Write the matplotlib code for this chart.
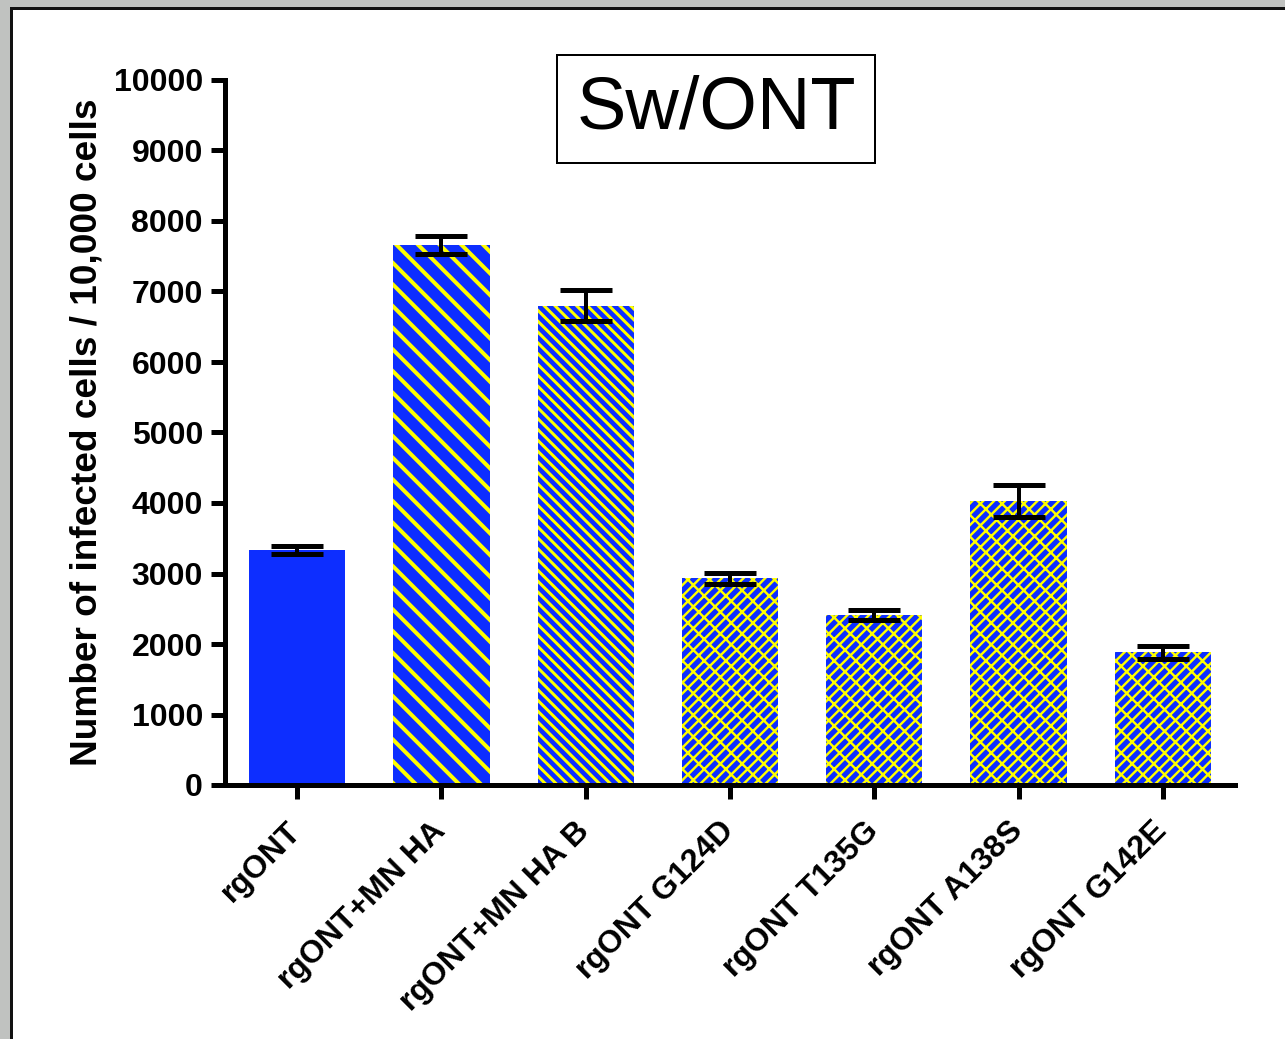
import matplotlib.pyplot as plt
from matplotlib.patches import Rectangle
from matplotlib.transforms import ScaledTranslation

# data
labels = ["rgONT", "rgONT+MN HA", "rgONT+MN HA B", "rgONT G124D",
          "rgONT T135G", "rgONT A138S", "rgONT G142E"]
values = [3330, 7660, 6800, 2930, 2410, 4030, 1880]
errors = [60, 125, 220, 75, 70, 225, 90]
hatches = ["", "\\\\", "\\\\\\\\", "////\\\\", "////\\\\", "////\\\\", "////\\\\"]

DPI = 130
px = 72 / DPI  # pixels -> points
hatch_lw = [0, 4.0, 3.0, 2.4, 2.4, 2.4, 2.4]  # in pixels

plt.rcParams["font.family"] = ["Liberation Sans", "DejaVu Sans"]
plt.rcParams["hatch.linewidth"] = 3.0 * px
plt.rcParams["hatch.color"] = "#ffff00"

fig = plt.figure(figsize=(1285 / DPI, 1039 / DPI), dpi=DPI)
fig.patch.set_facecolor("#c0c2c0")

# white panel with black top/left border
W, H = 1285, 1039
fig.patches.append(Rectangle((11 / W, 0), 1, 1 - 8 / H, transform=fig.transFigure,
                             facecolor="white", edgecolor="none", zorder=-1))
fig.add_artist(plt.Line2D([11 / W, 11 / W], [0, 1 - 8 / H], color="#111111",
                          lw=3 * px, transform=fig.transFigure, zorder=-0.5))
fig.add_artist(plt.Line2D([11 / W, 1], [1 - 8 / H, 1 - 8 / H], color="#111111",
                          lw=3 * px, transform=fig.transFigure, zorder=-0.5))

ax = fig.add_axes([225 / W, 1 - 785 / H, (1235 - 225) / W, (785 - 80) / H])
ax.set_facecolor("none")
ax.set_zorder(1)

x = range(len(labels))
for i in x:
    with plt.rc_context({"hatch.linewidth": max(hatch_lw[i], 1) * px}):
        bars = ax.bar(i, values[i], width=0.667, color="#0d2eff",
                      edgecolor="#ffff00" if hatches[i] else "#0d2eff",
                      linewidth=0, hatch=hatches[i], zorder=2)
    for b in bars:
        if hasattr(b, "set_hatch_linewidth"):
            b.set_hatch_linewidth(max(hatch_lw[i], 1) * px)

eb = ax.errorbar(list(x), values, yerr=errors, fmt="none", ecolor="black",
                 elinewidth=4 * px, capsize=26 * px, capthick=5 * px, zorder=3)
for cap in eb[1]:
    cap.set_solid_capstyle("round")

ax.set_xlim(-0.5, 6.5)
ax.set_ylim(0, 10000)
ax.set_yticks(range(0, 10001, 1000))
ax.set_xticks(list(x))
ax.set_xticklabels([])
# rotated category labels placed by hand relative to each tick
shift = ScaledTranslation(-11 / DPI, -31 / DPI, fig.dpi_scale_trans)
for i, lab in zip(x, labels):
    ax.text(i, 0, lab, transform=ax.get_xaxis_transform() + shift,
            rotation=45, ha="right", va="top", rotation_mode="anchor",
            fontsize=32 * px, fontweight="bold", clip_on=False)
for t in ax.get_yticklabels():
    t.set_fontsize(32 * px)
    t.set_fontweight("bold")

for s in ["top", "right"]:
    ax.spines[s].set_visible(False)
for s in ["left", "bottom"]:
    ax.spines[s].set_linewidth(5 * px)
ax.tick_params(axis="both", width=5 * px, length=14 * px, direction="out")
ax.tick_params(axis="y", pad=8 * px)

ax.set_ylabel("Number of infected cells / 10,000 cells", fontsize=37 * px,
              fontweight="bold", labelpad=9 * px)

fig.text(716 / W, 1 - 109 / H, "Sw/ONT", fontsize=74 * px, ha="center", va="center",
         zorder=5,
         bbox=dict(boxstyle="square,pad=0.26", facecolor="white", edgecolor="black",
                   linewidth=2 * px))

fig.savefig("out.png", dpi=DPI, facecolor=fig.get_facecolor())
